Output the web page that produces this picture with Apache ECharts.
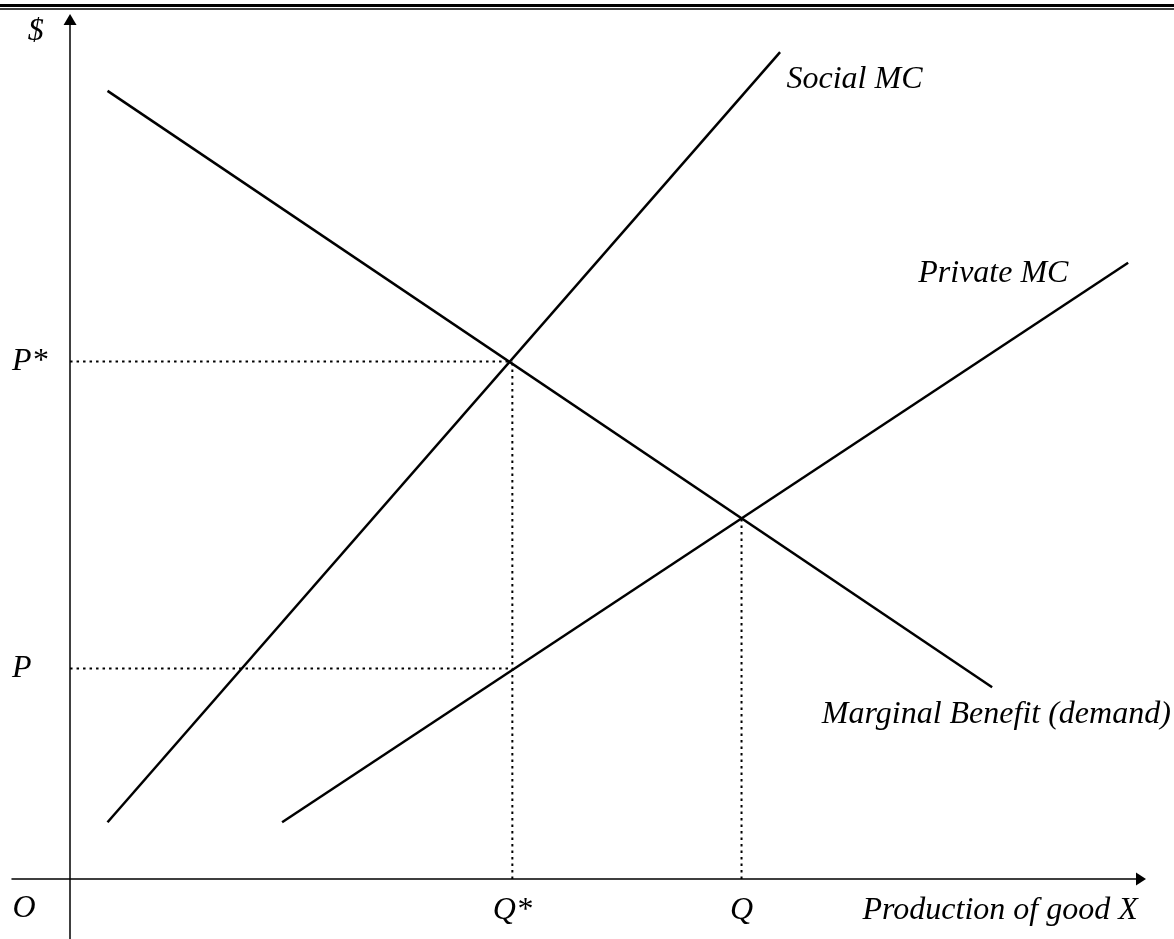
<!DOCTYPE html>
<html>
<head>
<meta charset="utf-8">
<script src="https://cdn.jsdelivr.net/npm/echarts@6/dist/echarts.min.js"></script>
<style>
html,body{margin:0;padding:0;background:#fff;}
#chart{width:1174px;height:939px;}
</style>
</head>
<body>
<div id="chart"></div>
<script>
// ---- Data ----
const socialMC = [[3.5, 6.6], [66.3, 96.2]];
const privateMC = [[19.8, 6.6], [98.8, 71.7]];
const marginalBenefit = [[3.5, 91.7], [86.1, 22.3]];
const qStar = 41.3;      // socially optimal quantity
const pStar = 60.2;      // socially optimal price
const qMarket = 62.7;    // market quantity
const pMarket = 42.0;    // market equilibrium price (at Q)
const pPrivate = 24.5;   // private MC at Q*
const curveNames = ['Social MC', 'Private MC', 'Marginal Benefit (demand)'];
const axisTexts = ['$', 'O', 'P*', 'P', 'Q*', 'Q', 'Production of good X'];

const xMin = -5.42, xMax = 100, yMin = -6.98, yMax = 100;

const font = {
  fontFamily: '"Liberation Serif", "Times New Roman", serif',
  fontStyle: 'italic',
  fontSize: 32,
  color: '#000',
  textBorderWidth: 0,
  opacity: 1
};

function lbl(text, x, y, align) {
  return {
    name: text,
    value: [x, y],
    label: Object.assign({show: true, formatter: text, align: align || 'center', verticalAlign: 'middle'}, font)
  };
}

const labelData = [
  lbl(axisTexts[0], -3.2, 98.6),
  lbl(axisTexts[1], -4.3, -3.5),
  lbl(axisTexts[2], xMin, pStar, 'left'),
  lbl(axisTexts[3], xMin, pPrivate, 'left'),
  lbl(axisTexts[4], qStar, -3.7),
  lbl(axisTexts[5], qMarket, -3.7),
  lbl(axisTexts[6], 74.0, -3.7, 'left'),
  lbl(curveNames[0], 66.9, 93.0, 'left'),
  lbl(curveNames[1], 79.2, 70.4, 'left'),
  lbl(curveNames[2], 70.2, 19.1, 'left')
];

const solid = {color: '#000', width: 2.5};
const dotted = {color: '#000', width: 2, type: [2.5, 4]};

function lineSeries(name, data, style) {
  return {
    name: name, type: 'line', data: data, symbol: 'none',
    lineStyle: style, silent: true, animation: false, clip: false
  };
}

const axisCommon = {
  type: 'value',
  axisTick: {show: false},
  axisLabel: {show: false},
  splitLine: {show: false},
  axisLine: {
    show: true, onZero: true,
    symbol: ['none', 'triangle'],
    lineStyle: {color: '#000', width: 1.5}
  }
};

const chart = echarts.init(document.getElementById('chart'), null, {renderer: 'canvas'});
chart.setOption({
  animation: false,
  backgroundColor: '#fff',
  grid: {left: 12, right: 33, top: 19.5, bottom: 0, containLabel: false},
  xAxis: Object.assign({}, axisCommon, {
    min: xMin, max: xMax,
    axisLine: Object.assign({}, axisCommon.axisLine, {symbolSize: [13, 10]})
  }),
  yAxis: Object.assign({}, axisCommon, {
    min: yMin, max: yMax,
    axisLine: Object.assign({}, axisCommon.axisLine, {symbolSize: [13, 11]})
  }),
  graphic: [
    {type: 'line', shape: {x1: 0, y1: 5.5, x2: 1174, y2: 5.5}, style: {stroke: '#000', lineWidth: 3}},
    {type: 'line', shape: {x1: 0, y1: 9, x2: 1174, y2: 9}, style: {stroke: '#000', lineWidth: 1.5}}
  ],
  series: [
    lineSeries('P* guide', [[0, pStar], [qStar, pStar]], dotted),
    lineSeries('Q* guide', [[qStar, 0], [qStar, pStar]], dotted),
    lineSeries('P guide', [[0, pPrivate], [qStar, pPrivate]], dotted),
    lineSeries('Q guide', [[qMarket, 0], [qMarket, pMarket]], dotted),
    lineSeries(curveNames[0], socialMC, solid),
    lineSeries(curveNames[1], privateMC, solid),
    lineSeries(curveNames[2], marginalBenefit, solid),
    {
      name: 'labels', type: 'scatter', symbolSize: 0, silent: true,
      itemStyle: {color: '#000'},
      data: labelData, clip: false, z: 5
    }
  ]
});
</script>
</body>
</html>
